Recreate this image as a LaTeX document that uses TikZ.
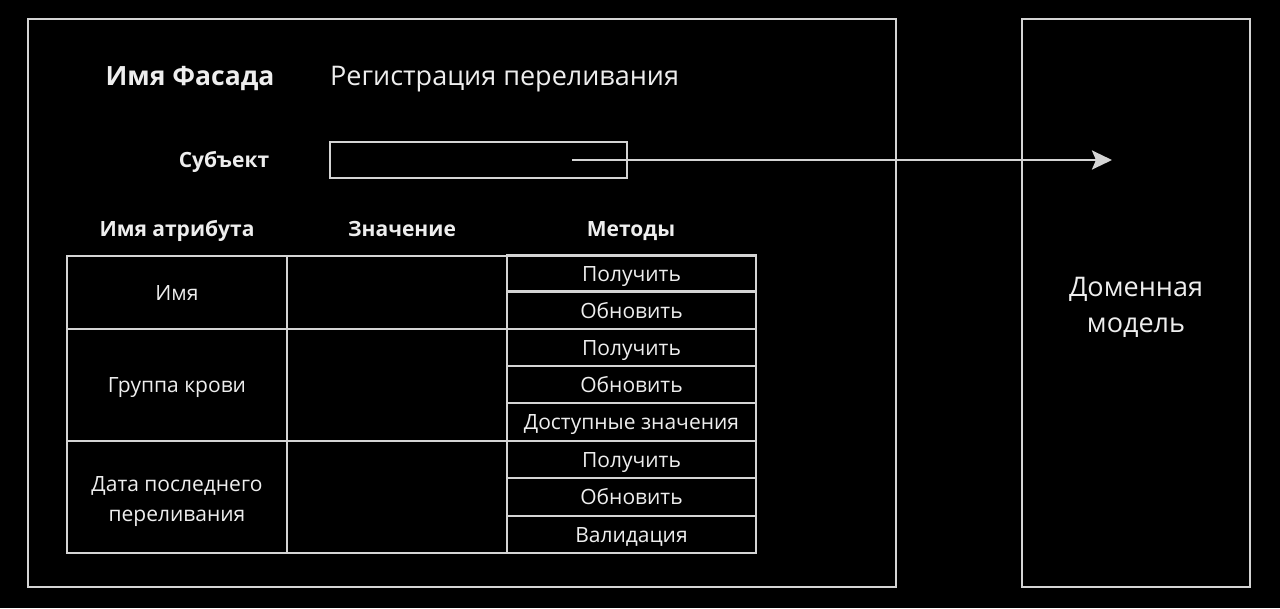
\documentclass[tikz,border=0pt]{standalone}
\usepackage{fontspec}
\setmainfont{Open Sans}
\usetikzlibrary{arrows.meta}
\definecolor{ln}{HTML}{D4D4D4}
\definecolor{tx}{HTML}{EEEEEE}
\tikzset{
  box/.style={draw=ln, line width=2.5pt, inner sep=0pt, text=tx},
  cell/.style={box, align=center, font=\fontsize{21}{30}\selectfont},
  one/.style={text height=15pt, text depth=0pt},
  title/.style={text=tx, inner sep=0pt, text height=19.5pt, text depth=0pt, font=\fontsize{27}{32}\selectfont},
  hdr/.style={text=tx, inner sep=0pt, text height=15pt, text depth=0pt, font=\bfseries\fontsize{21}{25}\selectfont},
}
\begin{document}
\begin{tikzpicture}[x=1pt,y=-1pt]
\fill[black] (0,0) rectangle (1280,608);
\useasboundingbox (0,0) rectangle (1280,608);
% outer boxes
\node[box, minimum width=868, minimum height=568] (facade) at (462,303) {};
\node[box, minimum width=228, minimum height=568] (domain) at (1136,303) {};
\node[text=tx, align=center, inner sep=0pt, font=\fontsize{27}{36}\selectfont] (dlabel) at (1136,307) {Доменная\\модель};
% titles
\node[title, font=\bfseries\fontsize{26.5}{32}\selectfont] (fname) at (190,76) {Имя Фасада};
\node[title, anchor=west] (fval) at (330,76) {Регистрация переливания};
\node[hdr] (subjl) at (224,160) {Субъект};
\node[box, minimum width=297, minimum height=36] (subj) at (478.5,160) {};
% headers
\node[hdr] (h1) at (177,229) {Имя атрибута};
\node[hdr] (h2) at (402,229) {Значение};
\node[hdr] (h3) at (631,229) {Методы};
% attribute cells
\node[cell, one, minimum width=220, minimum height=73] (a1) at (177,292.5) {Имя};
\node[cell, one, minimum width=220, minimum height=112] (a2) at (177,385) {Группа крови};
\node[cell, minimum width=220, minimum height=112] (a3) at (177,497) {};
\node[text=tx, align=center, inner sep=0pt, font=\fontsize{21}{30}\selectfont] (a3t) at (177,502) {Дата последнего\\переливания};
% value cells
\node[cell, minimum width=220, minimum height=73] (v1) at (397,292.5) {};
\node[cell, minimum width=220, minimum height=112] (v2) at (397,385) {};
\node[cell, minimum width=220, minimum height=112] (v3) at (397,497) {};
% method cells
\node[cell, one, minimum width=249, minimum height=36] (m11) at (631.5,273.5) {Получить};
\node[cell, one, minimum width=249, minimum height=37] (m12) at (631.5,310.5) {Обновить};
\node[cell, one, minimum width=249, minimum height=37] (m21) at (631.5,347.5) {Получить};
\node[cell, one, minimum width=249, minimum height=37] (m22) at (631.5,384.5) {Обновить};
\node[cell, one, minimum width=249, minimum height=38] (m23) at (631.5,422) {Доступные значения};
\node[cell, one, minimum width=249, minimum height=37] (m31) at (631.5,459.5) {Получить};
\node[cell, one, minimum width=249, minimum height=38] (m32) at (631.5,497) {Обновить};
\node[cell, one, minimum width=249, minimum height=37] (m33) at (631.5,534.5) {Валидация};
% arrow
\coordinate (as) at (572,160);
\coordinate (ae) at (1112,160);
\draw[ln, line width=2.8pt, -{Stealth[length=20pt, width=19pt, inset=4pt]}] (as) -- (ae);
\end{tikzpicture}
\end{document}
